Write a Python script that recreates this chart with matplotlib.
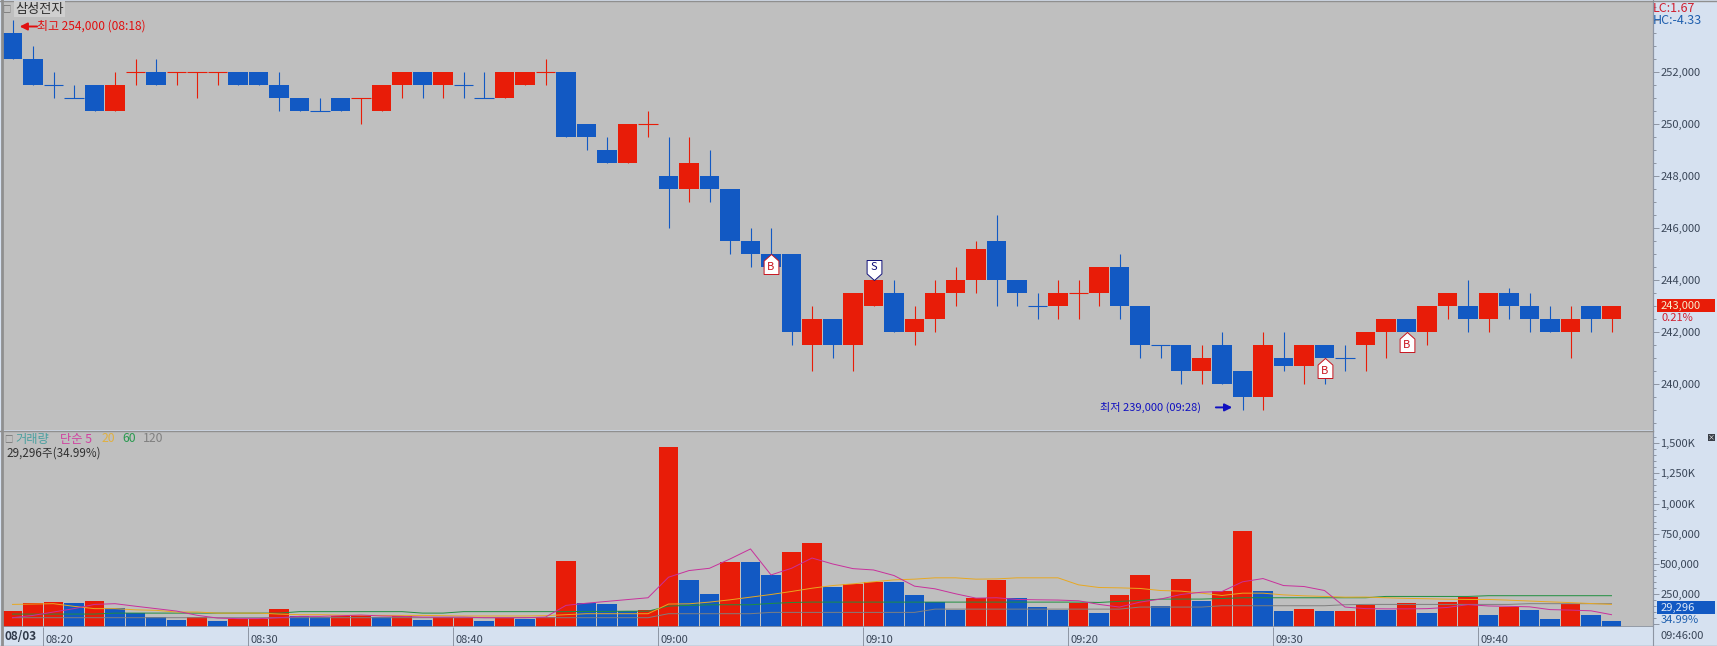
import matplotlib
matplotlib.use("Agg")
import matplotlib.pyplot as plt
from matplotlib.path import Path
from matplotlib.ticker import MultipleLocator, FuncFormatter, NullFormatter
import numpy as np

plt.rcParams['font.family'] = ['Noto Sans CJK KR', 'DejaVu Sans']

#-------------------------------------------
# Data (candle i = one minute, gap 08:50-09:00 removed)
price_open = [253500,252500,251500,251000,251500,250500,252000,252000,252000,252000,252000,252000,252000,251500,251000,
              250500,251000,251000,250500,251500,252000,251500,251500,251000,251000,251500,252000,252000,250000,249000,
              248500,250000,248000,247500,248000,247500,245500,245000,245000,241500,242500,241500,243000,243500,242000,
              242500,243500,244000,245500,244000,243000,243000,243500,243500,244500,243000,241500,241500,240500,241500,
              240500,239500,241000,240700,241500,241000,241500,242000,242500,242000,243000,243000,242500,243500,243000,
              242500,242000,243000,242500]
price_close = [252500,251500,251500,251000,250500,251500,252000,251500,252000,252000,252000,251500,251500,251000,250500,
               250500,250500,251000,251500,252000,251500,252000,251500,251000,252000,252000,252000,249500,249500,248500,
               250000,250000,247500,248500,247500,245500,245000,244500,242000,242500,241500,243500,244000,242000,242500,
               243500,244000,245200,244000,243500,243000,243500,243500,244500,243000,241500,241500,240500,241000,240000,
               239500,241500,240700,241500,241000,241000,242000,242500,242000,243000,243500,242500,243500,243000,242500,
               242000,242500,242500,243000]
price_high = [254000,253000,252000,251500,251500,252000,252500,252500,252000,252000,252000,252000,252000,252000,251000,
              251000,251000,251000,251500,252000,252000,252000,252000,252000,252000,252000,252500,252000,250000,249500,
              250000,250500,249500,249500,249000,247500,246000,246000,245000,243000,242500,243500,244000,244000,243000,
              244000,244500,245500,246500,244000,243500,244000,244000,244500,245000,243000,241500,241500,241500,242000,
              240500,242000,242000,241500,241500,241500,242000,242500,242500,243000,243500,244000,243500,243700,243500,
              243000,243000,243000,243000]
price_low = [252500,251500,251000,251000,250500,250500,251500,251500,251500,251000,251500,251500,251500,250500,250500,
             250500,250500,250000,250500,251000,251000,251000,251000,251000,251000,251500,251500,249500,249000,248500,
             248500,249500,246000,247000,247000,245000,244500,244500,241500,240500,241000,240500,243000,242000,241500,
             242000,243000,243500,243000,243000,242500,242500,242500,243000,242500,241000,241000,240000,240000,240000,
             239000,239000,240500,240000,240000,240500,240500,241000,242000,241500,242500,242000,242000,242500,242000,
             242000,241000,242000,242000]
candle_colors = ['b','b','b','b','b','r','r','b','r','r','r','b','b','b','b','b','b','r','r','r','b','r','b','b','r','r','r',
                 'b','b','b','r','r','b','r','b','b','b','b','b','r','b','r','r','b','r','r','r','r','b','b','b','r','r','r',
                 'b','b','b','b','r','b','b','r','b','r','b','b','r','r','b','r','r','b','r','b','b','b','r','b','r']

# volume values in thousands
volume = [107,179,184,176,190,137,96,60,36,60,27,41,41,124,71,63,71,80,63,71,36,60,49,27,49,47,60,
          527,176,165,113,121,1470,363,255,519,519,407,602,676,308,332,349,349,239,184,121,220,363,217,140,121,179,91,239,
          412,148,374,190,280,775,280,107,124,107,107,162,121,173,91,181,228,74,146,118,41,168,74,29.296]
volume_colors = ['r','r','r','b','r','b','b','b','b','r','b','r','r','r','b','b','r','r','b','r','b','r','r','b','r','b','r',
                 'r','b','b','b','r','r','b','b','r','b','b','r','r','b','r','r','b','b','b','b','r','r','b','b','b','r','b','r',
                 'r','b','r','b','r','r','b','b','r','b','r','r','b','r','b','r','r','b','r','b','b','r','b','b']
ma5 = [55,74,102,130,165,171,150,130,110,75,52,47,47,55,66,66,71,77,69,66,60,60,60,55,55,55,60,157,175,190,205,220,390,445,464,
       541,624,409,464,549,500,461,450,404,316,294,253,217,220,206,203,201,195,165,143,184,209,247,266,272,352,379,321,313,280,
       143,130,128,128,130,140,163,152,149,145,122,118,112,80]
ma20 = [165,168,171,149,130,130,120,116,102,102,93,93,93,85,80,80,76,74,74,74,74,72,69,69,69,69,72,80,88,88,88,88,168,170,184,
        203,225,247,272,299,321,335,352,368,374,385,385,374,376,385,385,385,327,305,302,297,280,275,258,239,258,258,244,236,231,
        225,226,220,215,212,208,206,206,200,193,186,180,172,165]
ma60 = [85,85,85,85,85,93,93,93,93,93,93,93,93,93,105,105,105,105,105,105,93,93,105,105,105,105,105,105,107,107,109,109,
        151,157,162,162,162,173,181,184,184,184,184,184,184,184,184,184,184,184,184,184,184,181,190,198,209,209,209,214,220,220,220,
        220,220,220,220,231,231,231,231,231,237,237,237,237,237,237,237]
ma120 = [55,55,55,55,55,55,55,55,55,55,55,55,55,55,55,55,55,55,55,55,55,55,55,55,55,55,55,55,55,55,55,55,88,88,88,88,88,99,99,99,
         99,99,99,99,99,126,126,126,126,126,126,126,126,126,126,143,143,143,143,154,154,154,154,154,154,162,165,165,165,165,165,165,
         165,165,171,171,171,171,171]

tick_index = [2,12,22,32,42,52,62,72]
tick_labels = ['08:20','08:30','08:40','09:00','09:10','09:20','09:30','09:40']
buy_index = [37,64,68]
buy_price = [245000,241000,242000]
sell_index = [42]
sell_price = [244000]

#-------------------------------------------
W, H = 1717, 646
RED = '#e81c08'
BLUE = '#1259c3'
BG = '#bfbfbf'
SIDE = '#d6e1f0'
LINE = '#8d95a3'
TXT = '#3a4658'
COL = {'r': RED, 'b': BLUE}

def make_axes(fig, left, top, right, bottom):
  return fig.add_axes([left/W, 1-bottom/H, (right-left)/W, (bottom-top)/H])

def style_axis(ax):
  ax.set_facecolor(BG)
  ax.yaxis.tick_right()
  for s in ['top','left','bottom']:
    ax.spines[s].set_visible(False)
  ax.spines['right'].set_color(LINE)
  ax.set_xlim((3-12.5)/20.5, (1652.5-12.5)/20.5)
  ax.tick_params(axis='y', which='major', length=4.5, width=0.7, color=LINE, labelsize=8, labelcolor=TXT, pad=1)
  ax.tick_params(axis='y', which='minor', length=2.5, width=0.7, color=LINE)

def price_label(v, p):
  # the top tick has no label in the chart
  return f"{int(v):,}" if v <= 252000 else ""

def volume_label(v, p):
  if v >= 1000:
    return f"{int(v):,}K"
  return f"{int(v)*1000:,}" if v > 0 else ""

fig = plt.figure(figsize=(W/100, H/100), dpi=100, facecolor=SIDE)
ax = make_axes(fig, 3, 1, 1652.5, 430)
vax = make_axes(fig, 3, 431.5, 1652.5, 627)
style_axis(ax)
style_axis(vax)

#-------------------------------------------
# Candles
x = np.arange(len(price_open))
po, pc, ph, pl = map(np.array, (price_open, price_close, price_high, price_low))
colors = [COL[c] for c in candle_colors]
ax.vlines(x, pl, ph, colors=colors, linewidth=0.8, zorder=2)
ax.bar(x, np.abs(po-pc), bottom=np.minimum(po,pc), width=0.93, color=colors, linewidth=0, zorder=3)
flat = po == pc
ax.hlines(po[flat], x[flat]-0.47, x[flat]+0.47, colors=np.array(colors)[flat], linewidth=0.8, zorder=3)

ax.set_ylim(252000-(430-72)/26*1000, 252000+(72-1)/26*1000)
ax.yaxis.set_major_locator(MultipleLocator(2000))
ax.yaxis.set_minor_locator(MultipleLocator(500))
ax.yaxis.set_major_formatter(FuncFormatter(price_label))
ax.set_xticks([])

# Buy / sell flags, origin of the path is the tip touching the candle
house = Path([(0,0),(.37,-.33),(.37,-1),(-.37,-1),(-.37,-.33),(0,0)], closed=True)
shield = Path([(0,0),(.37,.33),(.37,1),(-.37,1),(-.37,.33),(0,0)], closed=True)
ax.plot(buy_index, buy_price, linestyle='none', marker=house, markersize=28.8, mfc='white', mec='#c8141e', mew=0.7, zorder=5)
ax.plot(sell_index, sell_price, linestyle='none', marker=shield, markersize=28.8, mfc='white', mec='#10107a', mew=0.7, zorder=5)
for i, p in zip(buy_index, buy_price):
  ax.annotate('B', (i,p), xytext=(0,-9.5), textcoords='offset points', ha='center', va='center',
              fontsize=8, color='#c8141e', fontweight='medium', zorder=6)
for i, p in zip(sell_index, sell_price):
  ax.annotate('S', (i,p), xytext=(0,9.5), textcoords='offset points', ha='center', va='center',
              fontsize=8, color='#10107a', fontweight='medium', zorder=6)

# High / low notes
ax.annotate('', xy=(0.35,253750), xytext=(1.2,253750), arrowprops=dict(arrowstyle='-|>', color='#e01010', lw=1.4, mutation_scale=11, shrinkA=0, shrinkB=0), zorder=6)
ax.annotate('최고 254,000 (08:18)', (1.2,253750), va='center', ha='left', fontsize=8.6, color='#e01010', zorder=6)
ax.annotate('', xy=(59.5,239100), xytext=(58.7,239100), arrowprops=dict(arrowstyle='-|>', color='#1010c0', lw=1.4, mutation_scale=11, shrinkA=0, shrinkB=0), zorder=6)
ax.annotate('최저 239,000 (09:28)', (58.0,239100), va='center', ha='right', fontsize=8, color='#1010c0', zorder=6)

fig.text(15/W, 1-9/H, '삼성전자', fontsize=9.5, color='#303030', va='center', ha='left',
         bbox=dict(facecolor='#cfcfcf', edgecolor='none', pad=1))
fig.text(6/W, 1-9/H, '□', fontsize=6, color='#707070', va='center', ha='center')

#-------------------------------------------
# Volume
vmin = -22
vcolors = [COL[c] for c in volume_colors]
vax.bar(x, np.array(volume)-vmin, bottom=vmin, width=0.93, color=vcolors, linewidth=0, zorder=2)
vax.plot(x, ma120, color='#7f7f7f', linewidth=0.7, zorder=3)
vax.plot(x, ma60, color='#1f8f3f', linewidth=0.7, zorder=4)
vax.plot(x, ma20, color='#e8a820', linewidth=0.7, zorder=5)
vax.plot(x, ma5, color='#c8309c', linewidth=0.7, zorder=6)
vax.set_ylim(vmin, 1596)
vax.yaxis.set_major_locator(MultipleLocator(250))
vax.yaxis.set_minor_locator(MultipleLocator(50))
vax.yaxis.set_minor_formatter(NullFormatter())
vax.yaxis.set_major_formatter(FuncFormatter(volume_label))

vax.set_xticks(np.array(tick_index)-0.5)
vax.set_xticklabels([])
vax.tick_params(axis='x', length=13.7, width=0.7, color=LINE)
for t, lab in zip(tick_index, tick_labels):
  vax.annotate(lab, (t-0.5, 0), xycoords=('data','axes fraction'), xytext=(1.5,-9.5), textcoords='offset points',
               ha='left', va='center', fontsize=8, color=TXT)

# Frame lines
vax.axhline(vmin, color=LINE, linewidth=1.2, zorder=7)
fig.add_artist(plt.Line2D([1652.5/W,1652.5/W],[0,1], color=LINE, linewidth=0.8))
fig.add_artist(plt.Line2D([0,1652.5/W],[1-431/H,1-431/H], color='#8f8f8f', linewidth=1))
fig.add_artist(plt.Line2D([0,1],[1-0.5/H,1-0.5/H], color='#8f8f8f', linewidth=1))
fig.add_artist(plt.Line2D([1.5/W,1.5/W],[0,1], color='#8f8f8f', linewidth=2))
fig.add_artist(plt.Line2D([0,1],[0.5/H,0.5/H], color=LINE, linewidth=1))

fig.text(4/W, 1-636/H, '08/03', fontsize=8.5, fontweight='bold', color='#303a4a', va='center', ha='left')
fig.text(1660/W, 1-636/H, '09:46:00', fontsize=8, color=TXT, va='center', ha='left')

# Legend rows
fig.text(8/W, 1-439/H, '□', fontsize=6, color='#707070', va='center', ha='center')
for px, lab, c in [(15,'거래량','#4aa0a0'),(60,'단순 5','#d040a0'),(102,'20','#e0b040'),(122,'60','#2a9a50'),(143,'120','#808080')]:
  fig.text(px/W, 1-439/H, lab, fontsize=8.8, color=c, va='center', ha='left')
fig.text(6/W, 1-453/H, '29,296주(34.99%)', fontsize=8.4, color='#303030', va='center', ha='left')

# Right side boxes and texts
fig.text(1653/W, 1-8/H, 'LC:1.67', fontsize=9, color='#d02030', va='center', ha='left')
fig.text(1653/W, 1-20/H, 'HC:-4.33', fontsize=9, color='#1f5fae', va='center', ha='left')
fig.patches.append(plt.Rectangle((1657/W,1-312/H),58/W,13/H, transform=fig.transFigure, facecolor=RED, edgecolor='none'))
fig.text(1661/W, 1-305.5/H, '243,000', fontsize=8, color='#f6eecc', va='center', ha='left')
fig.text(1661/W, 1-318/H, '0.21%', fontsize=8, color='#d02030', va='center', ha='left')
fig.patches.append(plt.Rectangle((1657/W,1-614/H),58/W,13/H, transform=fig.transFigure, facecolor=BLUE, edgecolor='none'))
fig.text(1661/W, 1-607.5/H, '29,296', fontsize=8, color='#dce8f8', va='center', ha='left')
fig.text(1661/W, 1-620/H, '34.99%', fontsize=8, color='#1f5fae', va='center', ha='left')
fig.patches.append(plt.Rectangle((1708/W,1-441/H),7/W,7/H, transform=fig.transFigure, facecolor='#3a3f48', edgecolor='none'))
fig.text(1711.5/W, 1-437.5/H, '×', fontsize=5, color='white', va='center', ha='center')

fig.savefig('out.png', dpi=100)
